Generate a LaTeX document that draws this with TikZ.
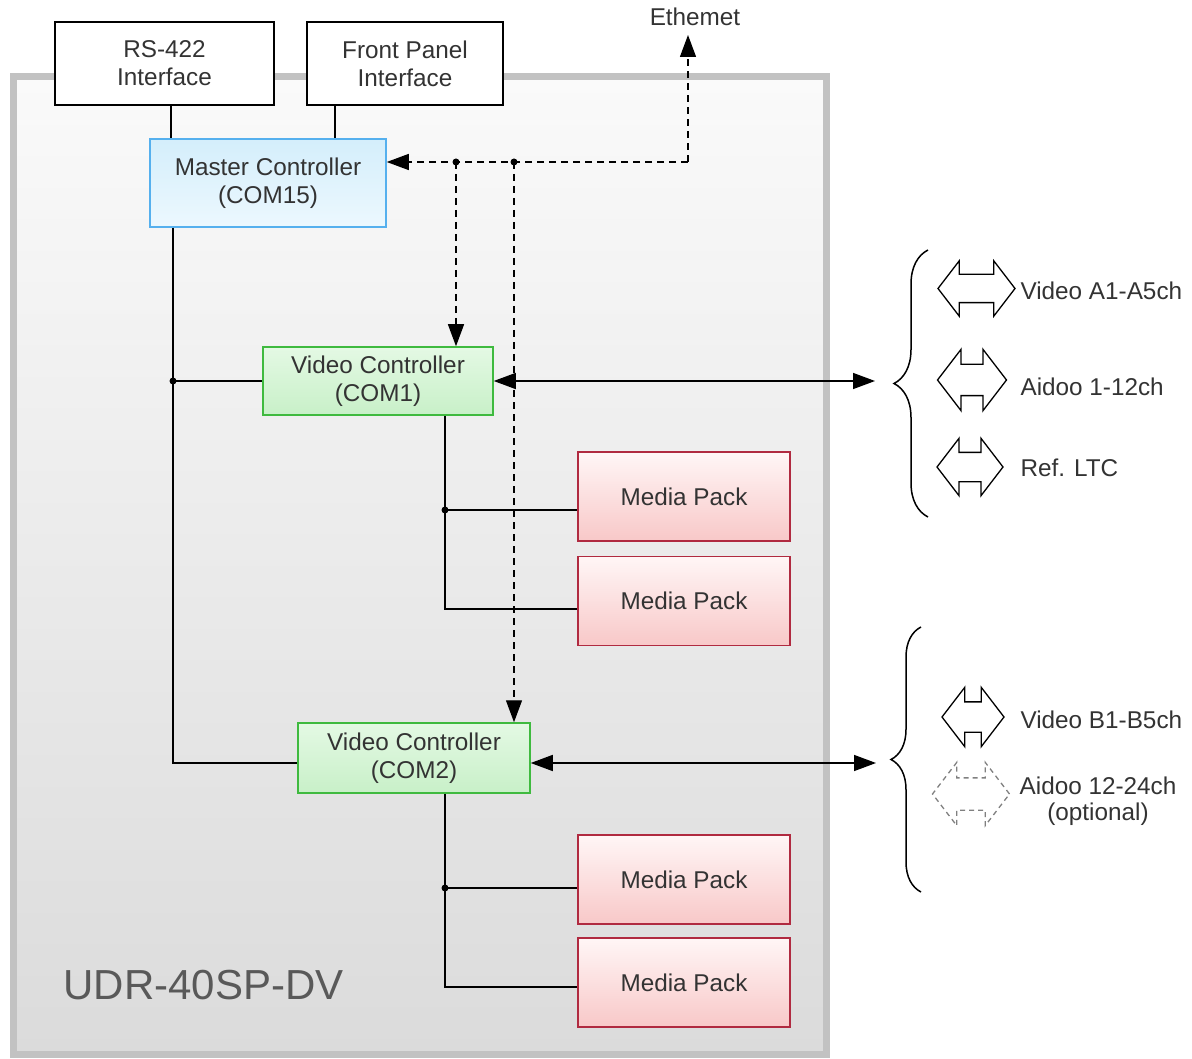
\documentclass[tikz,border=0pt]{standalone}
\usepackage{fontspec}
\setmainfont{Liberation Sans}
\usetikzlibrary{shapes.arrows,arrows.meta,positioning,decorations.pathreplacing}

\definecolor{framegray}{HTML}{C2C2C2}
\definecolor{mcblue}{HTML}{55B0EE}
\definecolor{vcgreen}{HTML}{3FBA3F}
\definecolor{mpred}{HTML}{B02A40}
\definecolor{txtgray}{HTML}{333333}

\begin{document}
\begin{tikzpicture}[x=1pt,y=-1pt,
	>={Triangle[length=22pt,width=16pt]},
	every node/.style={font=\fontsize{24.3}{28}\selectfont, text=txtgray},
	box/.style={draw, line width=1.5pt, inner sep=0pt, align=center},
	ifbox/.style={box, fill=white, minimum height=83pt},
	masterbox/.style={box, draw=mcblue, top color={rgb,255:red,212;green,238;blue,251}, bottom color={rgb,255:red,236;green,248;blue,254}, minimum width=236pt, minimum height=88pt},
	vcbox/.style={box, draw=vcgreen, top color={rgb,255:red,228;green,249;blue,228}, bottom color={rgb,255:red,200;green,240;blue,200}},
	mpbox/.style={box, draw=mpred, top color={rgb,255:red,255;green,246;blue,246}, bottom color={rgb,255:red,248;green,200;blue,200}, minimum width=212pt, minimum height=89pt},
	wire/.style={line width=1.5pt},
	dashline/.style={line width=1.3pt, dash pattern=on 7pt off 5pt},
	biarrow/.style={double arrow, draw, line width=1.3pt, inner xsep=0pt, inner ysep=#1, double arrow tip angle=105, double arrow head extend=#1},
	curly/.style={line width=1.5pt, decorate, decoration={brace, amplitude=#1}}
	]
	\useasboundingbox (0,0) rectangle (1192,1059);

	% housing
	\draw[line width=7pt, draw=framegray, top color={rgb,255:red,250;green,250;blue,250}, bottom color={rgb,255:red,219;green,219;blue,219}] (13,77) rectangle (826,1054);
	\node[font=\fontsize{42}{50}\selectfont, text=black!65, anchor=west] (model) at (60,985) {UDR-40SP-DV};

	% boxes
	\node[ifbox, minimum width=219pt] (rs) at (164.5,63.5) {RS-422\\Interface};
	\node[ifbox, minimum width=196pt] (fp) at (405,63.5) {Front Panel\\Interface};
	\node[masterbox] (master) at (268,183) {Master Controller\\(COM15)};
	\node[vcbox, minimum width=230pt, minimum height=68pt] (vc1) at (378,381) {Video Controller\\(COM1)};
	\node[vcbox, minimum width=232pt, minimum height=70pt] (vc2) at (414,758) {Video Controller\\(COM2)};
	\node[mpbox] (mp1) at (684,496.5) {Media Pack};
	\node[mpbox] (mp2) at (684,601) {Media Pack};
	\node[mpbox] (mp3) at (684,879.5) {Media Pack};
	\node[mpbox] (mp4) at (684,982.5) {Media Pack};

	% serial lines
	\draw[wire] ([xshift=6.5pt]rs.south) -- ([xshift=6.5pt]rs.south |- master.north);
	\draw[wire] ([xshift=-70pt]fp.south) -- ([xshift=-70pt]fp.south |- master.north);
	\coordinate (m1) at (173,381);
	\coordinate (m2) at (173,763);
	\draw[wire] (master.south -| m1) -- (m2) -- (m2 -| vc2.west);
	\draw[wire] (m1) -- (vc1.west);
	\fill (m1) circle (3.5);

	\coordinate (d1) at (445,510);
	\coordinate (d2) at (445,609);
	\draw[wire] (vc1.south -| d1) -- (d2) -- (d2 -| mp2.west);
	\draw[wire] (d1) -- (d1 -| mp1.west);
	\fill (d1) circle (3.5);
	\coordinate (d3) at (445,888);
	\coordinate (d4) at (445,987);
	\draw[wire] (vc2.south -| d3) -- (d4) -- (d4 -| mp4.west);
	\draw[wire] (d3) -- (d3 -| mp3.west);
	\fill (d3) circle (3.5);

	% ethernet
	\node (eth) at (695,17) {Ethemet};
	\coordinate (ethc) at (688,162);
	\coordinate (ethtip) at (688,35);
	\coordinate (e1) at (456,162);
	\coordinate (e2) at (514,162);
	\draw[dashline,->] (ethc) -- (ethtip);
	\draw[dashline,->] (ethc) -- (ethc -| master.east);
	\draw[dashline,->] (e1) -- (e1 |- vc1.north);
	\draw[dashline,->] (e2) -- (e2 |- vc2.north);
	\fill (e1) circle (3.5);
	\fill (e2) circle (3.5);

	% outputs
	\coordinate (b1) at (875,381);
	\coordinate (b2) at (876,763);
	\draw[wire,<->] (vc1.east) -- (b1);
	\draw[wire,<->] (vc2.east |- b2) -- (b2);
	\draw[curly=34pt] (928,517) -- (928,250);
	\draw[curly=30pt] (921,892) -- (921,627);

	\node[biarrow=13.5pt, minimum height=77pt] (va) at (976.5,288.5) {};
	\node[biarrow=15pt, minimum height=69pt] (aa) at (972,380) {};
	\node[biarrow=14pt, minimum height=66pt] (ltc) at (970,467) {};
	\node[biarrow=14.5pt, minimum height=62pt] (vb) at (973,717) {};
	\node[biarrow=15.5pt, draw=gray, dash pattern=on 5pt off 4pt, minimum height=77pt] (ab) at (971,794) {};
	\node[anchor=west] (valbl) at (1017,291) {Video A1-A5ch};
	\node[anchor=west] (aalbl) at (1017,387) {Aidoo 1-12ch};
	\node[anchor=west] (ltclbl) at (1017,468) {Ref. LTC};
	\node[anchor=west] (vblbl) at (1017,720) {Video B1-B5ch};
	\node[align=center, font=\fontsize{24.3}{26}\selectfont] (ablbl) at (1098,801) {Aidoo 12-24ch\\(optional)};
\end{tikzpicture}
\end{document}
